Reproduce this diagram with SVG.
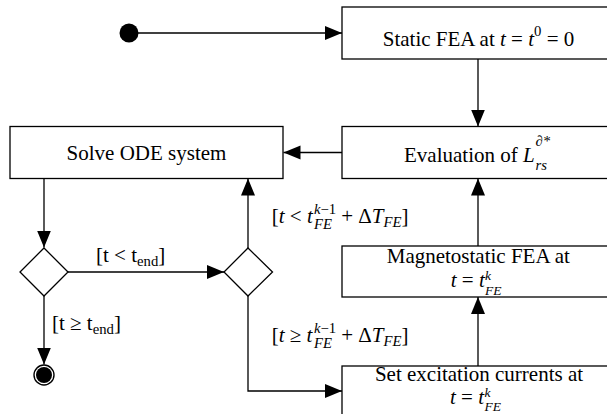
<svg xmlns="http://www.w3.org/2000/svg" width="607" height="414" viewBox="0 0 607 414" font-family="'Liberation Serif', 'Times New Roman', 'DejaVu Serif', serif">
<style>
.box{fill:#fff;stroke:#000;stroke-width:1.3}
.dec{fill:#fff;stroke:#000;stroke-width:1.3}
.edge{fill:none;stroke:#000;stroke-width:1.3;marker-end:url(#arr)}
text{font-family:'Liberation Serif','Times New Roman','DejaVu Serif',serif;font-size:21px;fill:#000}
.i{font-style:italic}
.s{font-size:14.7px}
.s2{font-size:13.5px}
</style>
<defs>
<marker id="arr" markerUnits="userSpaceOnUse" markerWidth="18" markerHeight="16" refX="17" refY="7" orient="auto"><path d="M0,0 L17,7 L0,14 z" fill="#000"/></marker>
</defs>
<rect width="607" height="414" fill="#fff"/>
<g id="connectors">
<path class="edge" d="M138,33 H342"/>
<path class="edge" d="M478,59 V126.5"/>
<path class="edge" d="M342,152.5 H283.5"/>
<path class="edge" d="M44,178.5 V247.5"/>
<path class="edge" d="M68,272 H224"/>
<path class="edge" d="M248,248 V178.5"/>
<path class="edge" d="M44,296 V364.5"/>
<path class="edge" d="M248,296 V391 H342"/>
<path class="edge" d="M478,366 V297"/>
<path class="edge" d="M478,246 V178.5"/>
</g>
<g id="start"><circle cx="129" cy="33" r="9.5" fill="#000"/></g>
<g id="static-fea">
<rect class="box" x="342" y="7" width="273" height="52"/>
<text x="478.5" y="45.7" text-anchor="middle">Static FEA at <tspan class="i">t</tspan> = <tspan class="i">t</tspan><tspan class="s" dy="-10">0</tspan><tspan dy="10"> = 0</tspan></text>
</g>
<g id="evaluation">
<rect class="box" x="342" y="126.5" width="273" height="52"/>
<text><tspan x="404" y="161.7">Evaluation of </tspan><tspan class="i">L</tspan><tspan class="s i" x="535.5" y="146">∂*</tspan><tspan class="s i" x="535.5" y="170">rs</tspan></text>
</g>
<g id="solve-ode">
<rect class="box" x="10" y="126.5" width="273" height="52"/>
<text x="146.5" y="160" text-anchor="middle">Solve ODE system</text>
</g>
<g id="magnetostatic">
<rect class="box" x="342" y="246" width="273" height="51"/>
<text x="478.3" y="262.5" text-anchor="middle">Magnetostatic FEA at</text>
<text><tspan class="i" x="450.7" y="286.7">t</tspan> = <tspan class="i">t</tspan><tspan class="s2 i" x="485" y="279.5">k</tspan><tspan class="s2 i" x="485" y="294.5">FE</tspan></text>
</g>
<g id="set-excitation">
<rect class="box" x="342" y="366" width="273" height="52"/>
<text x="479" y="380.5" text-anchor="middle">Set excitation currents at</text>
<text><tspan class="i" x="450" y="403.5">t</tspan> = <tspan class="i">t</tspan><tspan class="s2 i" x="484.5" y="397">k</tspan><tspan class="s2 i" x="484.5" y="410.5">FE</tspan></text>
</g>
<g id="decision-end">
<polygon class="dec" points="44,248 68,272 44,296 20,272"/>
</g>
<g id="decision-fe">
<polygon class="dec" points="248,248 272.5,272 248,296 224,272"/>
</g>
<g id="end">
<circle cx="44" cy="375" r="10" fill="none" stroke="#000" stroke-width="1.4"/>
<circle cx="44" cy="375" r="8" fill="#000"/>
</g>
<g id="labels">
<text x="96" y="262">[t &lt; t<tspan class="s" dy="4">end</tspan><tspan dy="-4">]</tspan></text>
<text x="52" y="330">[t ≥ t<tspan class="s" dy="4">end</tspan><tspan dy="-4">]</tspan></text>
<text><tspan x="271.7" y="223">[</tspan><tspan class="i">t</tspan> &lt; <tspan class="i">t</tspan><tspan class="s" x="314" y="214"><tspan class="i">k</tspan>−1</tspan><tspan class="s i" x="314" y="229">FE</tspan><tspan x="336" y="223"> + Δ</tspan><tspan class="i">T</tspan><tspan class="s i" dy="4">FE</tspan><tspan dy="-4">]</tspan></text>
<text><tspan x="271.7" y="342">[</tspan><tspan class="i">t</tspan> ≥ <tspan class="i">t</tspan><tspan class="s" x="314" y="333"><tspan class="i">k</tspan>−1</tspan><tspan class="s i" x="314" y="348">FE</tspan><tspan x="336" y="342"> + Δ</tspan><tspan class="i">T</tspan><tspan class="s i" dy="4">FE</tspan><tspan dy="-4">]</tspan></text>
</g>
</svg>
